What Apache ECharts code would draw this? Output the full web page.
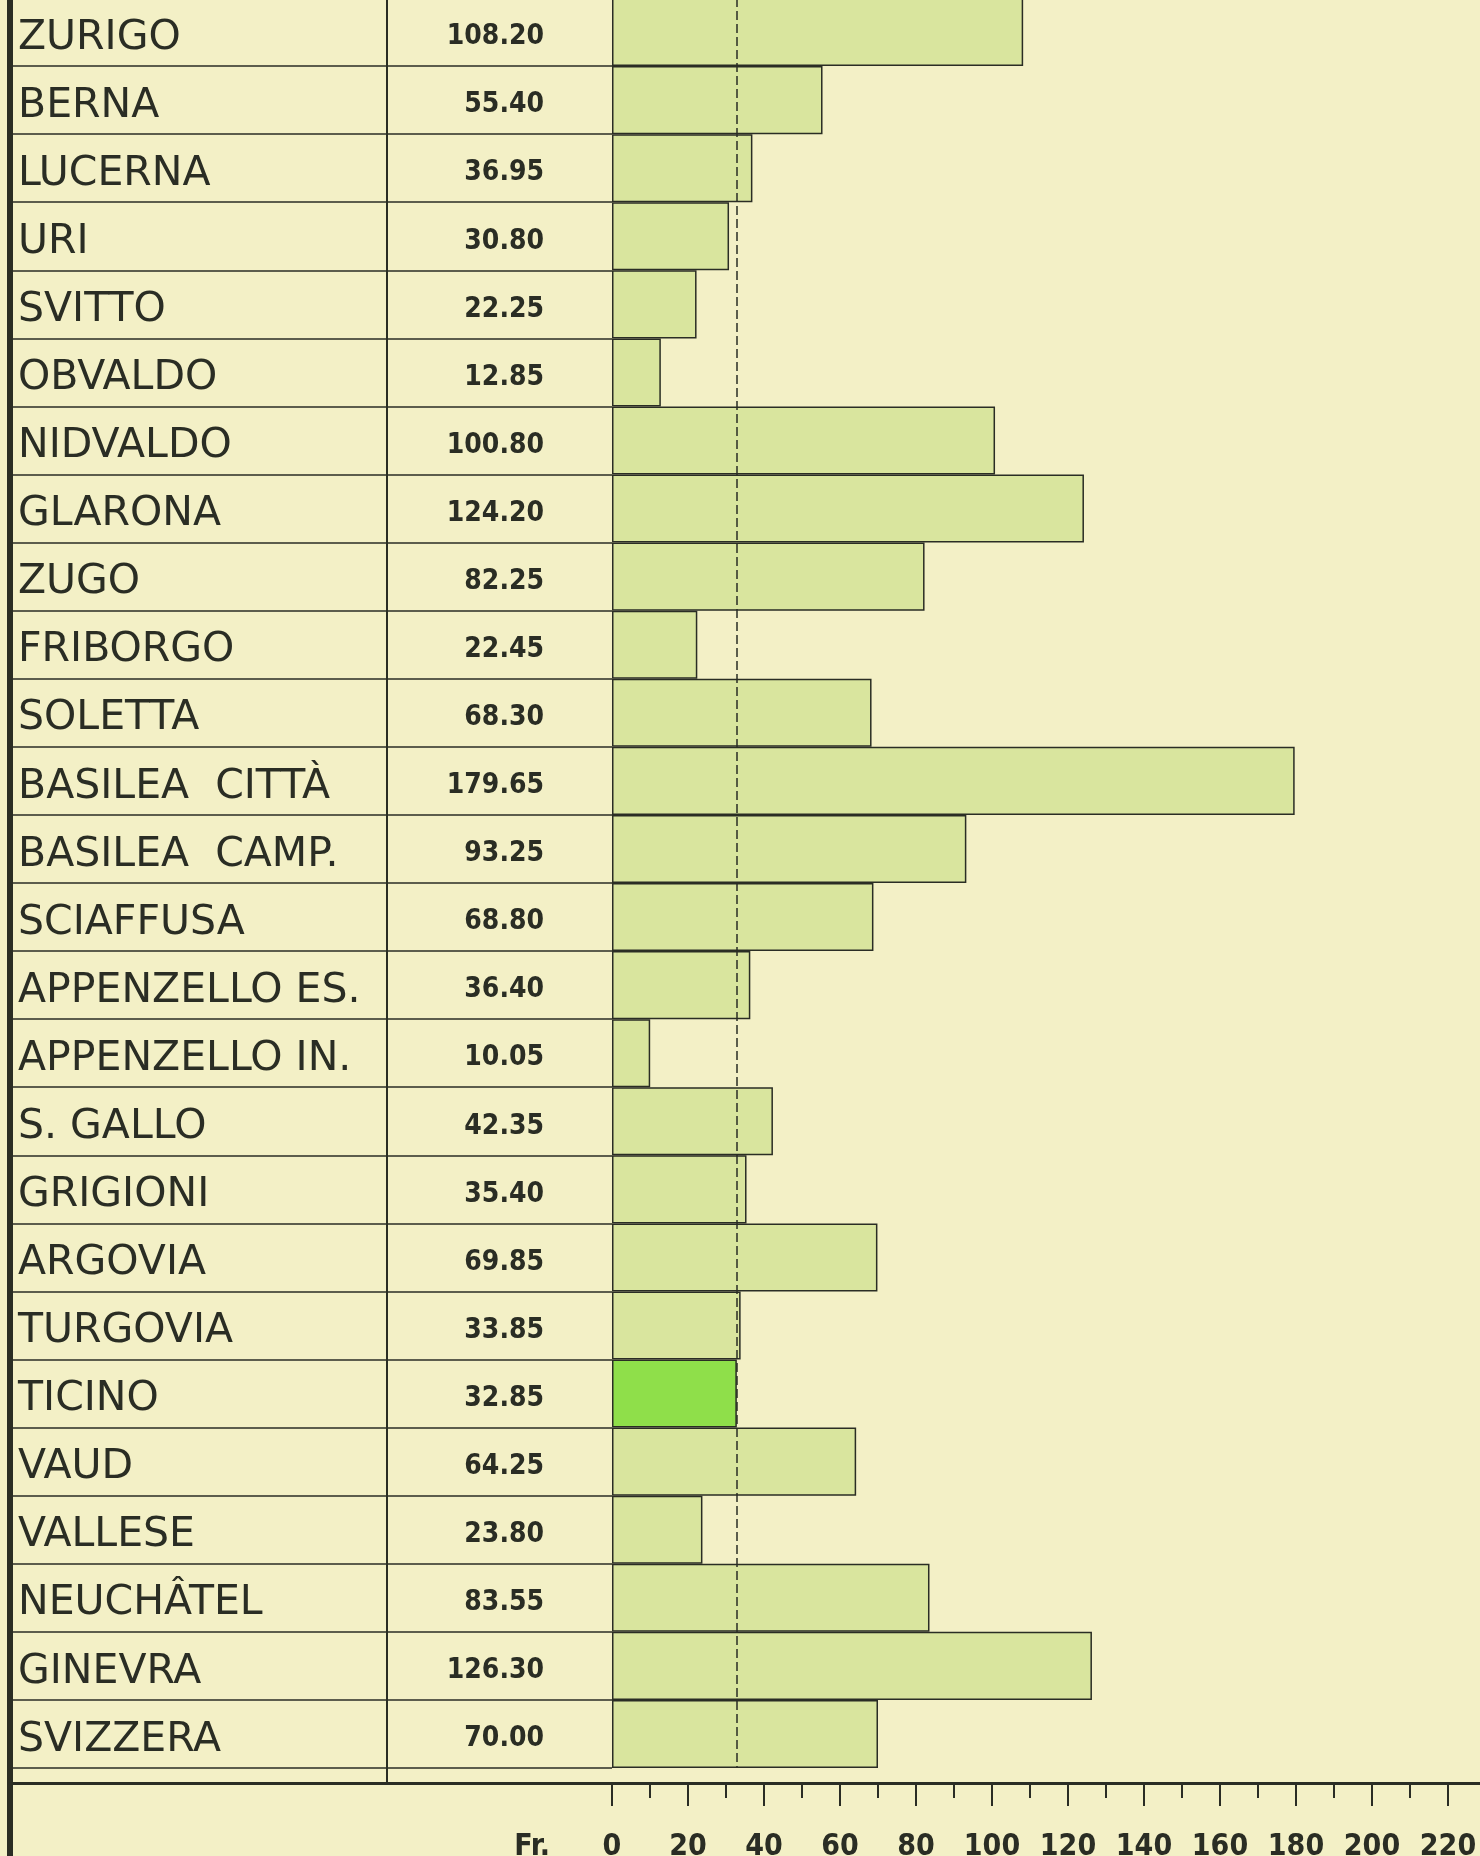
<!DOCTYPE html>
<html>
<head>
<meta charset="utf-8">
<script src="https://cdn.jsdelivr.net/npm/echarts@6/dist/echarts.min.js"></script>
<style>
html,body{margin:0;padding:0;background:#f3f0c6;}
#chart{width:1480px;height:1856px;}
</style>
</head>
<body>
<div id="chart"></div>
<script>
const categories = ['ZURIGO','BERNA','LUCERNA','URI','SVITTO','OBVALDO','NIDVALDO','GLARONA','ZUGO','FRIBORGO','SOLETTA','BASILEA  CITTÀ','BASILEA  CAMP.','SCIAFFUSA','APPENZELLO ES.','APPENZELLO IN.','S. GALLO','GRIGIONI','ARGOVIA','TURGOVIA','TICINO','VAUD','VALLESE','NEUCHÂTEL','GINEVRA','SVIZZERA'];
const values = [108.20,55.40,36.95,30.80,22.25,12.85,100.80,124.20,82.25,22.45,68.30,179.65,93.25,68.80,36.40,10.05,42.35,35.40,69.85,33.85,32.85,64.25,23.80,83.55,126.30,70.00];
const highlighted = 'TICINO';
const referenceValue = 32.85;
const axisUnit = 'Fr.';
const axisMaxLabel = 220;

const ink = '#2a2d24';
const barFill = '#d9e59e';
const highlightFill = '#8fdf4a';

const chart = echarts.init(document.getElementById('chart'), null, {renderer: 'canvas'});

const hIdx = categories.indexOf(highlighted);
const barData = values.map((v, i) => i === hIdx
  ? {value: v, itemStyle: {color: highlightFill}}
  : {value: v});

const tableY = {
  type: 'category', data: categories, inverse: true,
  axisLine: {show: false}, axisTick: {show: false},
  splitLine: {show: true, interval: 0, lineStyle: {color: ink, width: 1.5}}
};
const hiddenAxis = {type: 'value', show: false, min: 0, max: 1};
const g = o => Object.assign({outerBoundsMode: 'none', containLabel: false}, o);

const option = {
  backgroundColor: '#f3f0c6',
  animation: false,
  grid: [
    g({left: 10, width: 377, top: -2, bottom: 88}),
    g({left: 387, width: 225, top: -2, bottom: 88}),
    g({left: 612, right: -44, top: -2, bottom: 88}),
    g({left: 10, width: 1, top: 0, bottom: 0}),
    g({left: 387, width: 1, top: 0, bottom: 73})
  ],
  xAxis: [
    {gridIndex: 0, type: 'value', min: 0, max: 1, offset: 15,
      axisLine: {show: true, lineStyle: {color: ink, width: 3}},
      axisTick: {show: false}, axisLabel: {show: false}, splitLine: {show: false}},
    {gridIndex: 1, type: 'value', min: 0, max: 1, offset: 15,
      axisLine: {show: true, lineStyle: {color: ink, width: 3}},
      axisTick: {show: false}, axisLabel: {show: false}, splitLine: {show: false}},
    {gridIndex: 2, type: 'value', min: 0, max: 240, interval: 20, offset: 15,
      name: axisUnit, nameLocation: 'start', nameGap: 62,
      nameTextStyle: {fontFamily: 'DejaVu Sans Condensed', fontWeight: 'bold', fontSize: 30, color: ink,
        verticalAlign: 'top', lineHeight: 128},
      axisLine: {show: true, lineStyle: {color: ink, width: 3}},
      axisTick: {show: true, length: 23, lineStyle: {color: ink, width: 2}},
      minorTick: {show: true, splitNumber: 2, length: 15, lineStyle: {color: ink, width: 2}},
      axisLabel: {show: true, margin: 49, fontFamily: 'DejaVu Sans Condensed', fontWeight: 'bold',
        fontSize: 30, color: ink, formatter: v => (v <= axisMaxLabel ? String(v) : '')},
      splitLine: {show: false}},
    Object.assign({gridIndex: 3}, hiddenAxis),
    Object.assign({gridIndex: 4}, hiddenAxis)
  ],
  yAxis: [
    Object.assign({gridIndex: 0}, tableY, {
      axisLabel: {inside: true, margin: 8, align: 'left', verticalAlign: 'top', lineHeight: 12,
        fontFamily: 'DejaVu Sans', fontSize: 41, color: ink}
    }),
    Object.assign({gridIndex: 1}, tableY, {
      axisLabel: {inside: true, margin: 157, align: 'right', verticalAlign: 'top', lineHeight: 10,
        fontFamily: 'DejaVu Sans Condensed', fontWeight: 'bold',
        fontSize: 28, color: ink, formatter: (v, i) => values[i].toFixed(2)}
    }),
    {gridIndex: 2, type: 'category', data: categories, inverse: true, show: false},
    {gridIndex: 3, type: 'value', min: 0, max: 1,
      axisLine: {show: true, lineStyle: {color: ink, width: 6}},
      axisTick: {show: false}, axisLabel: {show: false}, splitLine: {show: false}},
    {gridIndex: 4, type: 'value', min: 0, max: 1,
      axisLine: {show: true, lineStyle: {color: ink, width: 2}},
      axisTick: {show: false}, axisLabel: {show: false}, splitLine: {show: false}}
  ],
  series: [{
    type: 'bar', xAxisIndex: 2, yAxisIndex: 2,
    data: barData, barWidth: '100%', barCategoryGap: 0,
    itemStyle: {color: barFill, borderColor: ink, borderWidth: 1.5},
    markLine: {
      silent: true, symbol: 'none',
      label: {show: false},
      lineStyle: {color: ink, width: 1.5, type: [9, 4]},
      data: [{xAxis: referenceValue}]
    }
  }]
};
chart.setOption(option);
</script>
</body>
</html>
